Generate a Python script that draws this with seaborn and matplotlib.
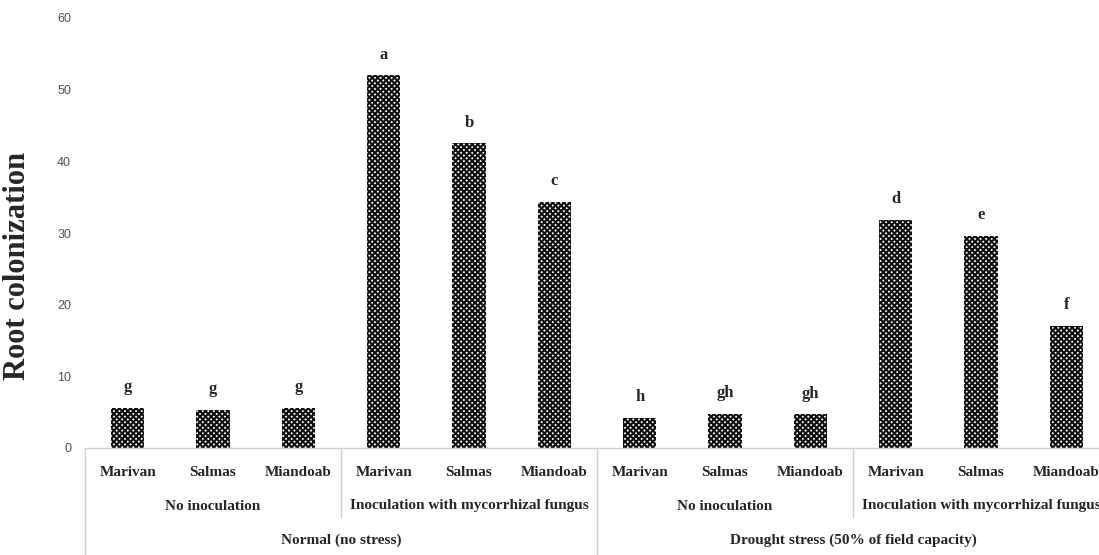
import matplotlib
matplotlib.use("Agg")
import matplotlib.pyplot as plt
import seaborn as sns
import pandas as pd

# ---- data ----
stress = ["Normal (no stress)"] * 6 + ["Drought stress (50% of field capacity)"] * 6
inoculation = (["No inoculation"] * 3 + ["Inoculation with mycorrhizal fungus"] * 3) * 2
sites = ["Marivan", "Salmas", "Miandoab"] * 4
values = [5.6, 5.3, 5.6, 52.0, 42.5, 34.3, 4.2, 4.8, 4.7, 31.8, 29.6, 17.0]
letters = ["g", "g", "g", "a", "b", "c", "h", "gh", "gh", "d", "e", "f"]
yticks = [0, 10, 20, 30, 40, 50, 60]

df = pd.DataFrame({
    "key": [f"{s}|{i}|{k}|{n}" for n, (s, i, k) in enumerate(zip(stress, inoculation, sites))],
    "stress": stress, "inoculation": inoculation, "site": sites, "value": values,
})

sns.set_style("white")
plt.rcParams["hatch.linewidth"] = 1.5
serif = ["Liberation Serif", "DejaVu Serif"]

W, H = 1099, 555
fig = plt.figure(figsize=(W / 100, H / 100), dpi=100)
left_px, right_px, top_px, base_px = 85, 1109, 18, 448
ax = fig.add_axes([left_px / W, (H - base_px) / H, (right_px - left_px) / W, (base_px - top_px) / H])

sns.barplot(data=df, x="key", y="value", order=list(df["key"]), color="white",
            edgecolor="black", linewidth=0, width=0.39, errorbar=None, ax=ax)
for p in ax.patches:
    p.set_hatch("xxxxxx")
    p.set_edgecolor("#111111")
    p.set_linewidth(0)

ax.set_ylim(0, 60)
ax.set_xlim(-0.5, len(values) - 0.5)
ax.set_yticks(yticks)
ax.set_yticklabels([str(t) for t in yticks], fontsize=9, color="#505050",
                   family=["Liberation Sans", "DejaVu Sans"])
ax.tick_params(axis="y", length=0, pad=10)
ax.tick_params(axis="x", length=0)
ax.set_xticks(range(len(values)))
ax.set_xticklabels([])
ax.set_xlabel("")
ax.set_ylabel("")
for s in ["top", "right", "left"]:
    ax.spines[s].set_visible(False)
ax.spines["bottom"].set_color("#d0d0d0")
ax.spines["bottom"].set_linewidth(1.0)

# letters above bars
for i, (v, l) in enumerate(zip(values, letters)):
    ax.text(i, v + 2.9, l, ha="center", va="center", fontsize=12,
            fontweight="bold", family=serif)

# multi-level category axis
tr = ax.get_xaxis_transform()
axh = base_px - top_px
def yf(px):
    return (base_px - px) / axh

for i, s in enumerate(sites):
    ax.text(i, yf(473), s, transform=tr, ha="center", va="center",
            fontsize=11, fontweight="bold", family=serif)

# sub-groups
for g in range(4):
    ax.text(g * 3 + 1, yf(506), inoculation[g * 3], transform=tr, ha="center",
            va="center", fontsize=11, fontweight="bold", family=serif)
for g in range(2):
    ax.text(g * 6 + 2.5, yf(540), stress[g * 6], transform=tr, ha="center",
            va="center", fontsize=11, fontweight="bold", family=serif)

line_kw = dict(color="#d0d0d0", lw=1.0, transform=tr, clip_on=False)
for xd in [-0.5, 5.5, 11.5]:
    ax.plot([xd, xd], [0, yf(560)], **line_kw)
for xd in [2.5, 8.5]:
    ax.plot([xd, xd], [0, yf(517)], **line_kw)

fig.text(18 / W, 1 - 266 / H, "Root colonization", rotation=90, ha="center",
         va="center", fontsize=22, fontweight="bold", family=serif)

fig.savefig("out.png", dpi=100)
